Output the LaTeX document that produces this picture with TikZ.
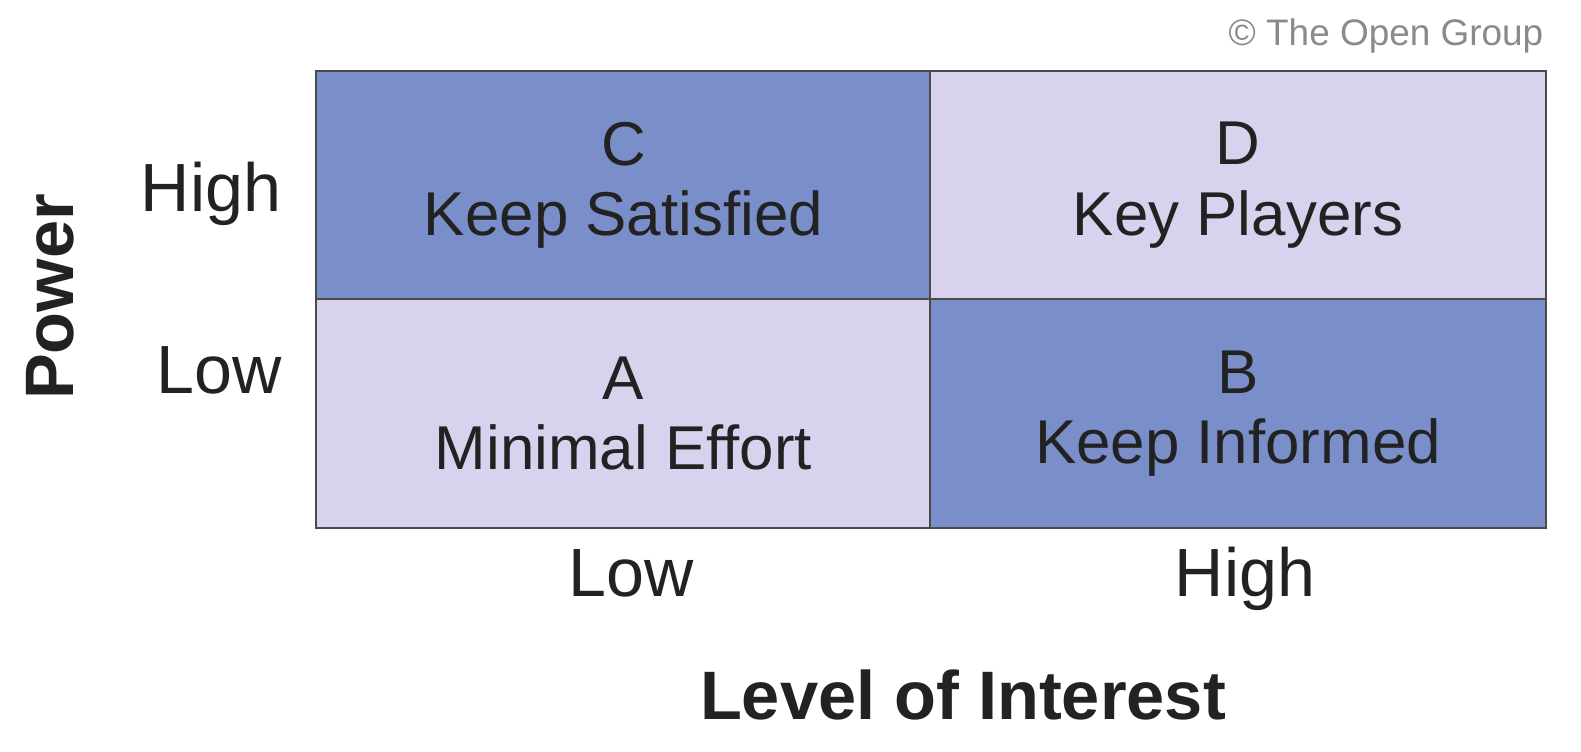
\documentclass[tikz,border=0pt]{standalone}
\usepackage{fontspec}
\setmainfont{Liberation Sans}
\usepackage{xcolor}
\usetikzlibrary{positioning}

\definecolor{keepblue}{HTML}{7A8FC9}
\definecolor{keeplilac}{HTML}{D9D2EE}
\definecolor{gridline}{HTML}{4A4A4A}
\definecolor{inktext}{HTML}{222222}
\definecolor{notegray}{HTML}{8A8A8A}

\begin{document}
\begin{tikzpicture}[
    x=0.01cm, y=-0.01cm,
    text=inktext,
    cell/.style={draw=gridline, line width=0.6pt, align=center, inner sep=0pt,
      minimum width=6.15cm, minimum height=2.285cm,
      font=\fontsize{17.6}{20}\selectfont},
    darkcell/.style={cell, fill=keepblue},
    lightcell/.style={cell, fill=keeplilac},
    ticklabel/.style={inner sep=0pt, font=\fontsize{19.4}{23}\selectfont},
    axislabel/.style={inner sep=0pt, font=\fontsize{19.5}{23}\selectfont\bfseries}
  ]
    \useasboundingbox (0,0) rectangle (1581,752);

    % quadrants
    \node[darkcell] (keepsat) at (623.5,185) {C\\Keep Satisfied};
    \node[lightcell] (keyplay) at (1238,185) {D\\Key Players};
    \node[lightcell] (mineff) at (623.5,413.5) {A\\Minimal Effort};
    \node[darkcell] (keepinf) at (1238,413.5) {B\\Keep Informed};

    % power axis
    \node[ticklabel, anchor=base east] (powhigh) at (282,212) {High};
    \node[ticklabel, anchor=base east] (powlow) at (282,394) {Low};
    \node[axislabel, rotate=90] (power) at (50,297) {Power};

    % interest axis
    \node[ticklabel, anchor=base] (inlow) at (631,597) {Low};
    \node[ticklabel, anchor=base] (inhigh) at (1245,597) {High};
    \node[axislabel, anchor=base] (interest) at (963,720) {Level of Interest};

    \node[inner sep=0pt, anchor=base east, text=notegray,
      font=\fontsize{10.5}{13}\selectfont] (credit) at (1544,46) {© The Open Group};
  \end{tikzpicture}
\end{document}
